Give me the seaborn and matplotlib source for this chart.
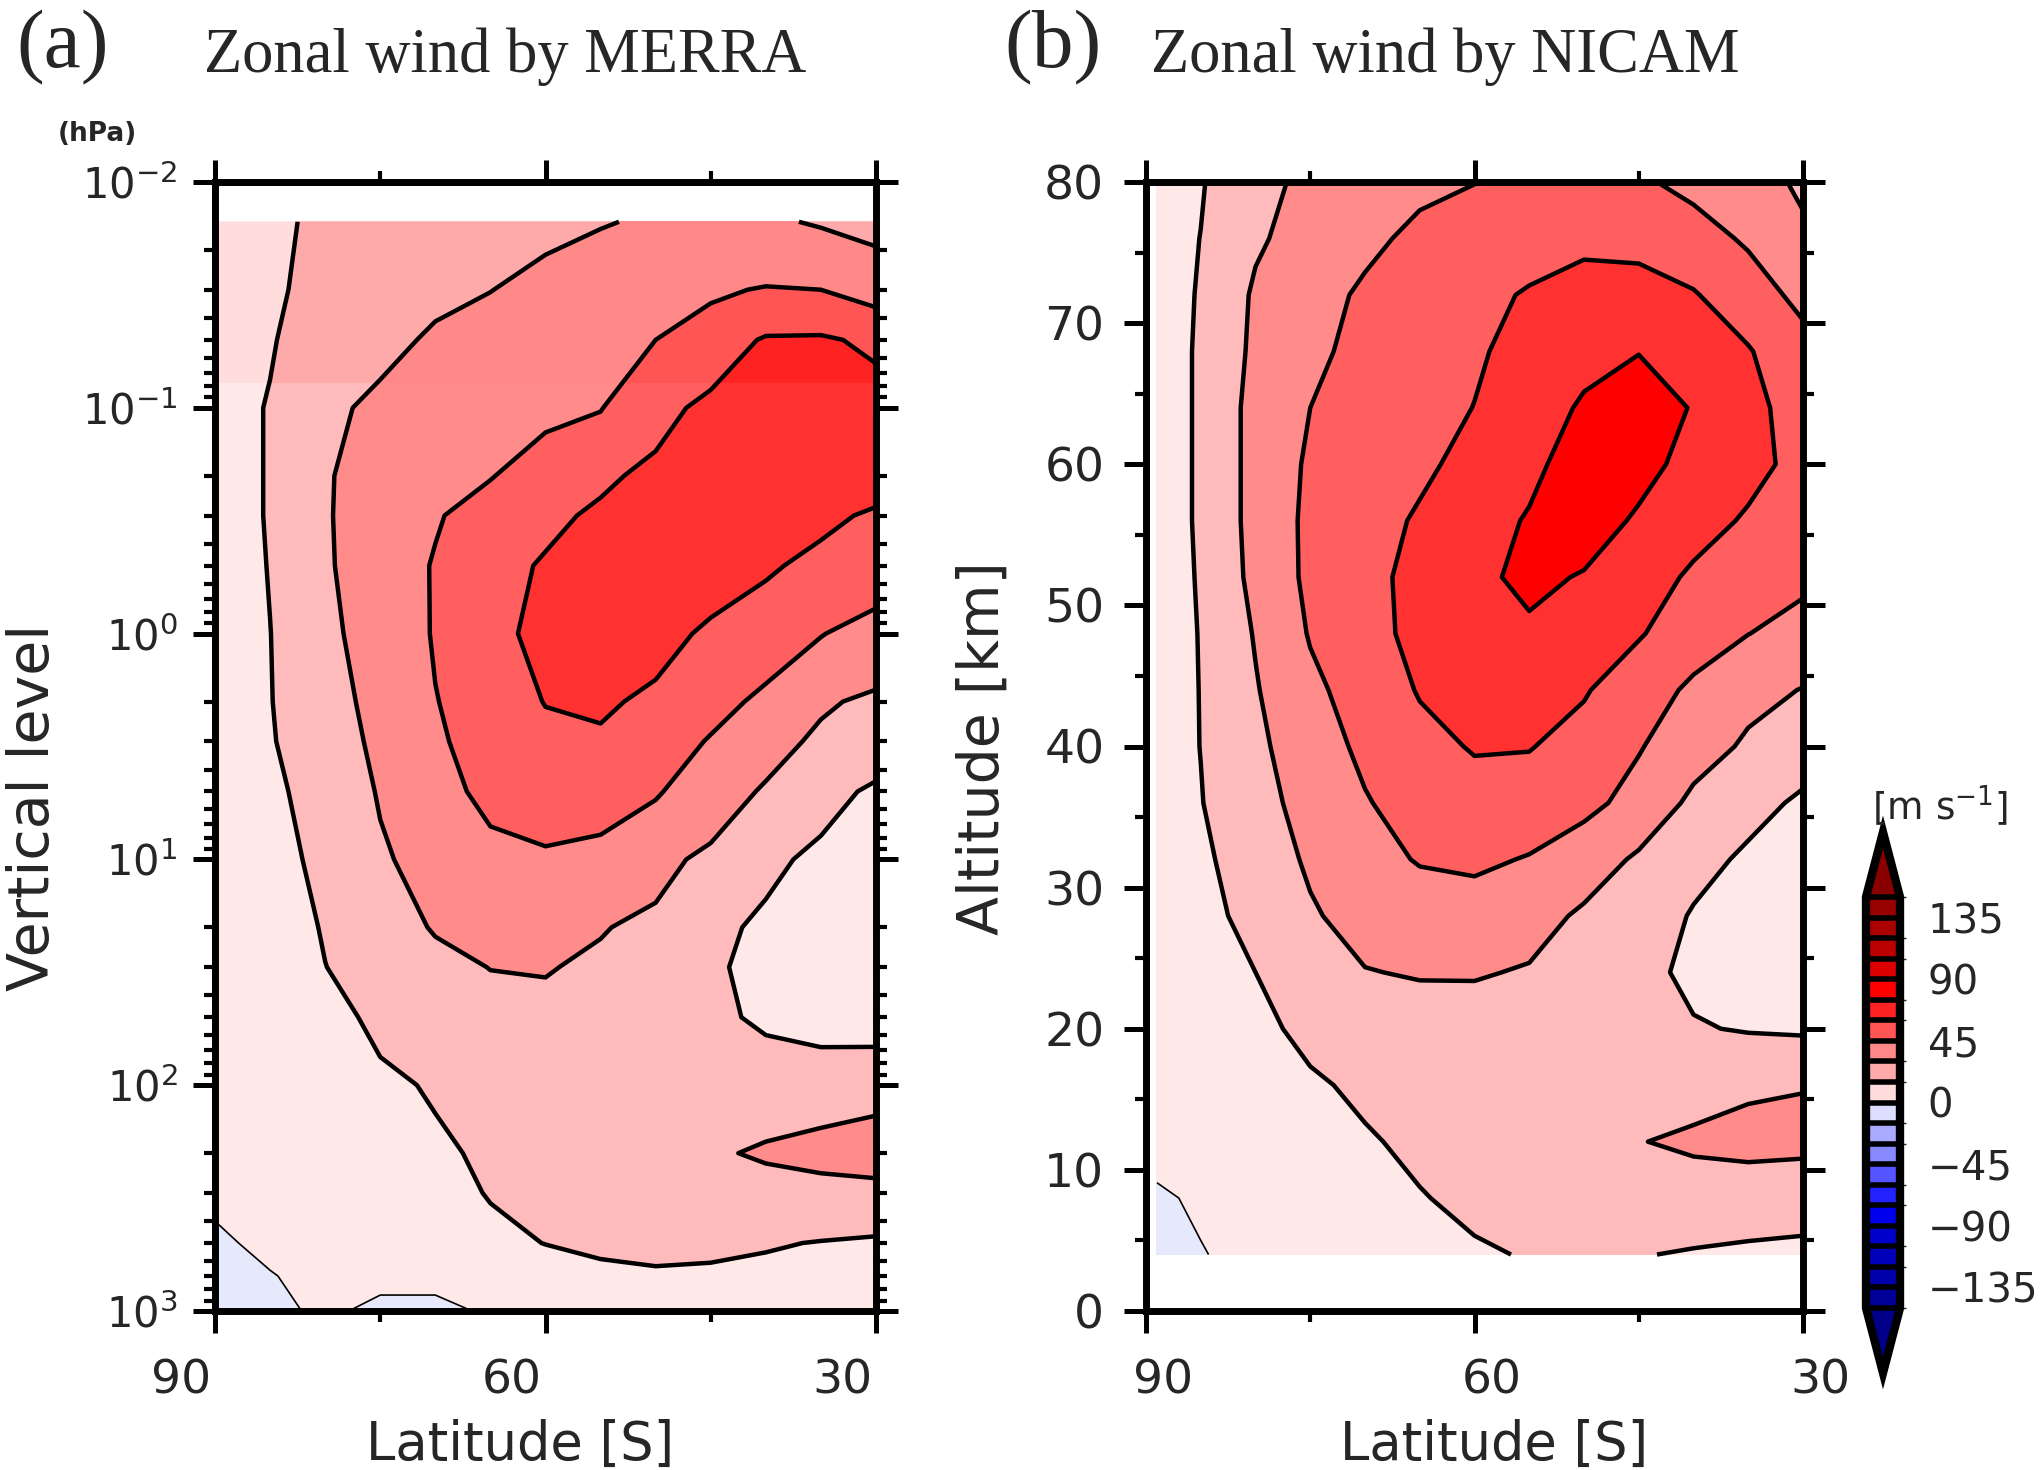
import matplotlib
matplotlib.use("Agg")
import matplotlib.pyplot as plt
import matplotlib.patches as mpatches
import matplotlib.transforms as mtransforms
from matplotlib.colors import ListedColormap, BoundaryNorm
from matplotlib.cm import ScalarMappable
from matplotlib.ticker import FixedLocator, NullFormatter, LogLocator
import seaborn as sns

# ---- data ----
lat_merra = [90, 85, 80, 75, 70, 65, 60, 55, 50, 45, 40, 35, 30]
lat_nicam = [89, 85, 80, 75, 70, 65, 60, 55, 50, 45, 40, 35, 30]
pres_merra = [0.015, 0.03, 0.05, 0.1, 0.2, 0.3, 0.5, 1, 2, 3, 5, 10, 20, 30,
              50, 100, 200, 300, 500, 700, 1000]
alt_nicam = [4, 8, 12, 16, 20, 24, 28, 32, 36, 40, 44, 48, 52, 56, 60, 64,
             68, 72, 76, 80]

# zonal wind [m/s], one row per pressure level (top to bottom), columns = lat_merra
u_merra = [
    [8, 11, 19, 22, 25, 27, 28, 29.5, 31, 33, 31.5, 29, 26],
    [8, 12, 21, 25, 28, 29.8, 33, 36, 39, 43, 46, 45, 40],
    [8, 14, 22, 27, 31.5, 35, 38, 41, 45, 52, 61.5, 62, 57],
    [8, 16, 27, 33, 37, 41, 43, 44.5, 55, 64, 68, 70, 68],
    [8, 16, 29, 35, 39, 44.5, 50, 57, 64, 68, 70, 70, 66],
    [8, 16, 29, 36, 44, 50, 56, 63, 68, 69, 67, 63, 58],
    [8, 15.5, 28.5, 37, 46, 53, 62, 67, 69, 67, 62, 56, 51],
    [8, 14.8, 27, 36, 46, 55, 65, 69, 66, 57, 50, 45.5, 40],
    [7, 14.5, 25, 34, 44.5, 52, 60.5, 63, 56, 49, 42.5, 32, 27],
    [7, 14, 23, 33, 43, 51, 56, 57, 52, 44, 36, 27, 21],
    [6, 12, 21, 31, 41, 48, 51, 50, 46, 39, 28, 19, 13],
    [5, 10, 18.5, 28, 36, 41, 43, 41, 35, 26, 18, 12, 9],
    [4, 8, 16, 24, 31, 34, 35, 31, 26, 19, 12, 9, 7],
    [4, 7, 14.8, 21, 26, 30.3, 31, 27, 23, 17, 11, 8, 6],
    [3, 6, 12, 17, 21, 24, 25, 23, 21, 17.5, 13, 10, 9],
    [3, 5, 9, 13, 16, 19, 21, 22, 22, 22, 23, 24, 26],
    [2, 4, 7, 10, 13, 17, 20, 22, 24, 28, 32, 35, 37],
    [1.5, 3, 6, 9, 12, 15.5, 18, 20, 21, 22, 23, 24, 25],
    [-1.5, 2, 5, 8, 10, 12.5, 15.2, 17, 18, 17.5, 16, 14.5, 13],
    [-3, -0.5, 3, 2, 2, 7, 10, 12.5, 13.5, 13, 12, 11, 10],
    [-4, -2, 1.5, -2, -2, 1, 5, 8, 9, 9, 8, 7, 6],
]

# zonal wind [m/s], one row per altitude (bottom to top), columns = lat_nicam
u_nicam = [
    [-3, -0.5, 3, 6, 9, 12, 14, 15.5, 16, 15.5, 14, 12.5, 11],
    [-1.5, 1.5, 5, 8.5, 11, 14.5, 17, 19, 21, 23, 23, 23, 23],
    [4, 5.5, 8, 11, 14, 17, 20, 22, 25, 29.5, 32.5, 34, 33],
    [5, 7, 10, 13.5, 17, 19, 20, 21, 21.5, 22, 24, 28, 29.5],
    [6, 8.5, 12, 18, 22, 24, 24.5, 23, 21, 18, 16, 14, 13],
    [6.5, 10, 15, 23, 29.5, 31, 31, 29, 24, 19, 12, 9, 8],
    [7, 11, 19, 28.5, 35, 38, 38, 35, 28, 22, 14, 10, 8],
    [7.5, 12.5, 22, 32, 40, 46, 48, 44, 37, 28, 19, 13, 10],
    [8, 14.5, 25, 35, 44, 51, 55, 55, 49, 40, 27, 19, 13],
    [8.5, 15.2, 27, 38, 48, 56, 61, 60.5, 56, 46, 36, 28, 21],
    [9, 15.3, 29, 42, 51, 61, 64, 65, 61, 53, 42, 34, 29.5],
    [9, 15.5, 31, 46, 55, 64, 71, 73, 68, 61, 53, 45.2, 40],
    [9, 16, 34, 48, 56, 64, 72, 78, 74, 66, 58, 53, 48],
    [9, 16.5, 35, 48, 55, 61.5, 70, 76, 82, 73, 65, 58.5, 53],
    [9, 16.5, 35, 47, 53, 57.5, 64, 72, 81, 80, 70, 64, 56],
    [9, 16.5, 35, 45, 51, 56, 60.2, 67, 77, 83, 74, 64, 54],
    [9, 16.5, 33, 42, 49, 55, 58.5, 64, 70, 74.5, 69, 61, 50],
    [9, 16, 32, 40, 47, 53, 57, 61, 65, 65, 61, 52, 41],
    [9, 15.2, 28, 36, 42, 48, 52, 55, 57, 56, 51, 43, 32],
    [10, 14, 26, 33, 38, 42, 44.7, 47, 49, 47, 41, 35, 28],
]

levels = list(range(-150, 151, 15))
line_levels = [0, 15, 30, 45, 60, 75]
cbar_ticks = [-135, -90, -45, 0, 45, 90, 135]

# colour table (colourbar boxes), lowest to highest
box_colors = ["#000099", "#0000aa", "#0000bb", "#0000cc", "#0000ee",
              "#2222ff", "#5555ff", "#8888ff", "#aaaaff", "#ddddff",
              "#ffdddd", "#ffaaaa", "#ff8888", "#ff5555", "#ff2222",
              "#ff0000", "#dd0000", "#bb0000", "#aa0000", "#990000"]
# fills as they appear inside the panels (a bit lighter near zero)
fill_colors = list(box_colors)
fill_colors[9:15] = ["#e6e8fc", "#ffe8e8", "#ffbbbb", "#ff8b8b", "#ff5f5f", "#ff3131"]

sns.set_theme(style="ticks")
plt.rcParams["font.family"] = ["DejaVu Sans"]
plt.rcParams["axes.linewidth"] = 5

W, H = 2041, 1470
fig = plt.figure(figsize=(W / 100, H / 100), dpi=100)
ax_a = fig.add_axes([215 / W, 1 - 1311 / H, 661 / W, 1129 / H])
ax_b = fig.add_axes([1146 / W, 1 - 1311 / H, 657 / W, 1129 / H])

cmap_box = ListedColormap(sns.color_palette(box_colors).as_hex())
cmap_box.set_under("#000088")
cmap_box.set_over("#880000")
norm = BoundaryNorm(levels, cmap_box.N)
lw = [1.2] + [3.2] * (len(line_levels) - 1)

# (a) MERRA, pressure levels
ax_a.set_yscale("log")
ax_a.contourf(lat_merra, pres_merra, u_merra, levels=levels, colors=fill_colors)
band = ax_a.contourf(lat_merra, pres_merra, u_merra, levels=levels, colors=box_colors)
band_rect = mpatches.Rectangle((30, 0.015), 60, 0.078 - 0.015, transform=ax_a.transData)
band.set_clip_path(band_rect)
ax_a.contour(lat_merra, pres_merra, u_merra, levels=line_levels, colors="black", linewidths=lw)
ax_a.set_ylim(1000, 0.01)
ax_a.yaxis.set_major_locator(LogLocator(base=10, numticks=10))
ax_a.yaxis.set_minor_locator(LogLocator(base=10, subs=range(2, 10), numticks=50))
ax_a.yaxis.set_minor_formatter(NullFormatter())
ax_a.set_ylabel("Vertical level", fontsize=41, va="center")
ax_a.yaxis.set_label_coords(-0.275, 0.446)

# (b) NICAM, altitude
ax_b.contourf(lat_nicam, alt_nicam, u_nicam, levels=levels, colors=fill_colors)
ax_b.contour(lat_nicam, alt_nicam, u_nicam, levels=line_levels, colors="black", linewidths=lw)
ax_b.set_ylim(0, 80)
ax_b.yaxis.set_major_locator(FixedLocator(range(0, 81, 10)))
ax_b.yaxis.set_minor_locator(FixedLocator(range(5, 80, 10)))
ax_b.set_ylabel("Altitude [km]", fontsize=41, va="center")
ax_b.yaxis.set_label_coords(-0.248, 0.499)

for ax, dx, ypad, xl in [(ax_a, -34, 11, 0.461), (ax_b, 17, 14, 0.53)]:
    ax.set_xlim(90, 30)
    ax.set_xticks([90, 60, 30])
    ax.set_xticks([75, 45], minor=True)
    ax.set_xlabel("Latitude [S]", fontsize=38, va="center")
    ax.xaxis.set_label_coords(xl, -0.119)
    ax.tick_params(which="major", direction="out", length=16, width=3.6,
                   top=True, right=True, labelsize=34, color="black")
    ax.tick_params(which="minor", direction="out", length=8, width=3,
                   top=True, right=True, color="black")
    ax.tick_params(axis="x", which="major", pad=18)
    ax.tick_params(axis="y", which="major", pad=ypad)
    for s in ax.spines.values():
        s.set_linewidth(5)
        s.set_color("black")
        s.set_zorder(5)
    shift = mtransforms.ScaledTranslation(dx / 100, 0, fig.dpi_scale_trans)
    for lab in ax.get_xticklabels():
        lab.set_transform(lab.get_transform() + shift)

ax_a.tick_params(axis="y", which="major", labelsize=30)

fig.text(58 / W, 1 - 134 / H, "(hPa)", fontsize=19, fontweight="bold", va="center")

# panel titles
serif = ["Liberation Serif", "DejaVu Serif"]
fig.text(16 / W, 1 - 48 / H, "(a)", fontsize=60, family=serif, va="center")
fig.text(204 / W, 1 - 72 / H, "Zonal wind by MERRA", fontsize=45, family=serif, va="baseline")
fig.text(1004 / W, 1 - 48 / H, "(b)", fontsize=60, family=serif, va="center")
fig.text(1151 / W, 1 - 72 / H, "Zonal wind by NICAM", fontsize=45, family=serif, va="baseline")

# colour bar (axes includes the two end triangles)
cax = fig.add_axes([1866 / W, 1 - 1373 / H, 34 / W, 541 / H])
sm = ScalarMappable(norm=norm, cmap=cmap_box)
cb = fig.colorbar(sm, cax=cax, extend="both", ticks=cbar_ticks, drawedges=True,
                  extendfrac=0.158)
cb.outline.set_linewidth(6)
cb.outline.set_edgecolor("black")
cb.dividers.set_color("black")
cb.dividers.set_linewidth(4)
cax.tick_params(length=0, labelsize=29, pad=20)
fig.text(1940 / W, 1 - 806 / H, "[m s$^{-1}$]", fontsize=27, ha="center", va="center")

fig.savefig("out.png", dpi=100)
